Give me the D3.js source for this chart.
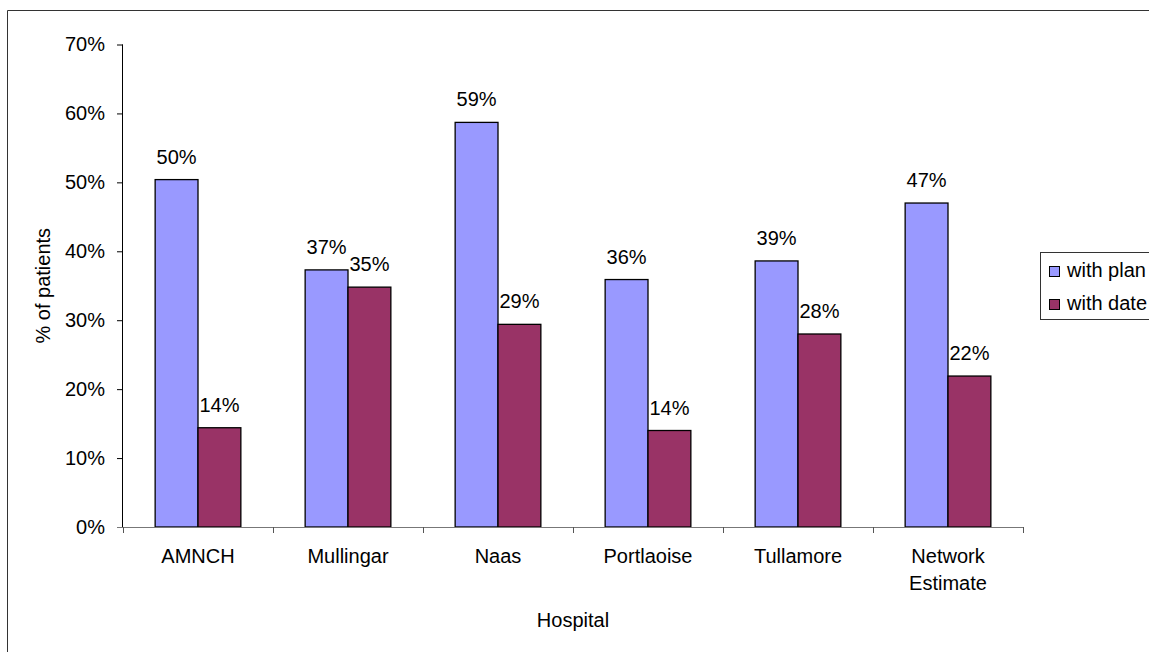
<!DOCTYPE html>
<html>
<head>
<meta charset="utf-8">
<script src="https://cdn.jsdelivr.net/npm/d3@7"></script>
<style>
  body { margin: 0; background: #fff; }
  text { font-family: "Liberation Sans", Arial, sans-serif; }
</style>
</head>
<body>
<div id="chart"></div>
<script>
// Chart data
const hospitals = ["AMNCH", "Mullingar", "Naas", "Portlaoise", "Tullamore", "Network Estimate"];
const seriesNames = ["with plan", "with date"];
const withPlan = [0.504, 0.373, 0.587, 0.359, 0.386, 0.470];
const withDate = [0.144, 0.348, 0.294, 0.140, 0.280, 0.219];
const yTicks = [0, 0.1, 0.2, 0.3, 0.4, 0.5, 0.6, 0.7];
const colors = ["#9999FF", "#993366"];

const width = 1149;
const height = 652;

const svg = d3.select("#chart")
    .append("svg")
    .attr("width", width)
    .attr("height", height);

// Outer chart border (cut off at right and bottom)
svg.append("path")
    .attr("d", `M7.5,${height + 2} V10.5 H${width + 2}`)
    .attr("fill", "none")
    .attr("stroke", "#333")
    .attr("stroke-width", 1);

const plot = { left: 123, right: 1023, top: 44.5, bottom: 527 };

const x0 = d3.scaleBand()
    .domain(hospitals)
    .range([plot.left, plot.right])
    .padding(0);

// Excel style gap width 150%
const x1 = d3.scaleBand()
    .domain(seriesNames)
    .range([0, x0.bandwidth()])
    .paddingInner(0)
    .paddingOuter(0.75);

const y = d3.scaleLinear()
    .domain([0, 0.7])
    .range([plot.bottom, plot.top]);

const fmt = d3.format(".0%");

const rows = hospitals.map((h, i) => ({
    name: h,
    values: [withPlan[i], withDate[i]]
}));

// Bars
const groups = svg.selectAll("g.cat")
    .data(rows)
    .enter()
    .append("g")
    .attr("class", "cat")
    .attr("transform", d => `translate(${x0(d.name)},0)`);

groups.selectAll("rect")
    .data(d => d.values.map((v, j) => ({ key: seriesNames[j], value: v, j: j })))
    .enter()
    .append("rect")
    .attr("x", d => x1(d.key))
    .attr("y", d => y(d.value))
    .attr("width", x1.bandwidth())
    .attr("height", d => y(0) - y(d.value))
    .attr("fill", d => colors[d.j])
    .attr("stroke", "#000")
    .attr("stroke-width", 1.3);

// Data labels
groups.selectAll("text.lbl")
    .data(d => d.values.map((v, j) => ({ key: seriesNames[j], value: v })))
    .enter()
    .append("text")
    .attr("class", "lbl")
    .attr("x", d => x1(d.key) + x1.bandwidth() / 2)
    .attr("y", d => y(d.value) - 16)
    .attr("text-anchor", "middle")
    .attr("font-size", "20px")
    .attr("fill", "#000")
    .text(d => fmt(d.value));

// Y axis
const yAxis = svg.append("g")
    .attr("transform", `translate(${plot.left},0)`)
    .call(d3.axisLeft(y).tickValues(yTicks).tickFormat(fmt).tickSize(6).tickPadding(12));
yAxis.select(".domain").attr("stroke", "#000").attr("d", `M-0.5,${plot.top}V${plot.bottom}`);
yAxis.selectAll(".tick line").attr("stroke", "#000");
yAxis.selectAll(".tick text")
    .attr("font-size", "20px")
    .attr("font-family", "Liberation Sans, Arial, sans-serif")
    .attr("fill", "#000");

// X axis
const xAxis = svg.append("g")
    .attr("transform", `translate(0,${plot.bottom})`);
xAxis.append("line")
    .attr("x1", plot.left - 6).attr("x2", plot.right)
    .attr("y1", 0.5).attr("y2", 0.5)
    .attr("stroke", "#777");
xAxis.selectAll("line.tk")
    .data(hospitals.concat(["end"]))
    .enter()
    .append("line")
    .attr("class", "tk")
    .attr("x1", (d, i) => Math.round(plot.left + i * x0.step()) + 0.5)
    .attr("x2", (d, i) => Math.round(plot.left + i * x0.step()) + 0.5)
    .attr("y1", 0)
    .attr("y2", 6)
    .attr("stroke", "#555");

const catLabels = xAxis.selectAll("text.cat")
    .data(hospitals)
    .enter()
    .append("text")
    .attr("class", "cat")
    .attr("text-anchor", "middle")
    .attr("font-size", "20px")
    .attr("fill", "#000");
catLabels.each(function(d) {
    const words = d.split(" ");
    const t = d3.select(this);
    words.forEach((w, k) => {
        t.append("tspan")
            .attr("x", x0(d) + x0.bandwidth() / 2)
            .attr("y", 36 + k * 27)
            .text(w);
    });
});

// Axis titles
svg.append("text")
    .attr("x", (plot.left + plot.right) / 2)
    .attr("y", 627)
    .attr("text-anchor", "middle")
    .attr("font-size", "20px")
    .text("Hospital");

svg.append("text")
    .attr("transform", `translate(50,${(plot.top + plot.bottom) / 2}) rotate(-90)`)
    .attr("text-anchor", "middle")
    .attr("font-size", "20px")
    .text("% of patients");

// Legend
const legend = svg.append("g");
legend.append("rect")
    .attr("x", 1040.5)
    .attr("y", 252.5)
    .attr("width", 140)
    .attr("height", 67)
    .attr("fill", "#fff")
    .attr("stroke", "#333");

const items = legend.selectAll("g.item")
    .data(seriesNames)
    .enter()
    .append("g")
    .attr("class", "item")
    .attr("transform", (d, i) => `translate(1049,${266 + i * 33})`);
items.append("rect")
    .attr("x", 0.5).attr("y", 0.5)
    .attr("width", 10).attr("height", 10)
    .attr("fill", (d, i) => colors[i])
    .attr("stroke", "#000");
items.append("text")
    .attr("x", 18)
    .attr("y", 11)
    .attr("font-size", "20px")
    .text(d => d);
</script>
</body>
</html>
